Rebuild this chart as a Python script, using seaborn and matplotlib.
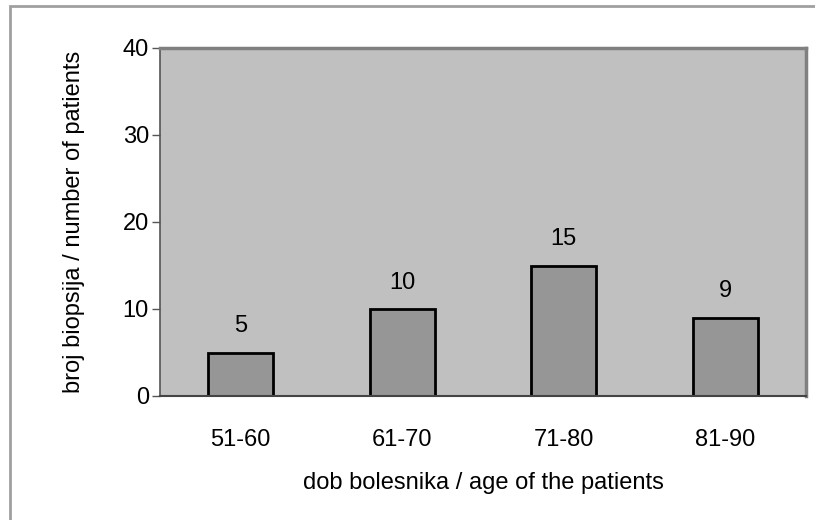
import matplotlib
matplotlib.use("Agg")
import matplotlib.pyplot as plt
import seaborn as sns
import pandas as pd
from matplotlib.patches import Rectangle

categories = ["51-60", "61-70", "71-80", "81-90"]
counts = [5, 10, 15, 9]
y_ticks = [0, 10, 20, 30, 40]

sns.set_style("white")
plt.rcParams['font.family'] = ['Liberation Sans', 'DejaVu Sans']
plt.rcParams['text.color'] = 'black'
plt.rcParams['axes.labelcolor'] = 'black'
plt.rcParams['xtick.color'] = 'black'
plt.rcParams['ytick.color'] = 'black'

df = pd.DataFrame({"age": categories, "n": counts})

fig = plt.figure(figsize=(8.15, 5.2), dpi=100)
ax = fig.add_axes([160/815, 1-396/520, (806-160)/815, (396-48)/520])
ax.set_facecolor("#C0C0C0")

sns.barplot(data=df, x="age", y="n", ax=ax, color="#969696", width=0.40,
            edgecolor="black", linewidth=2, saturation=1)

ax.set_ylim(0, 40)
ax.set_yticks(y_ticks)
ax.set_xlim(-0.5, 3.5)
for s in ["top", "right"]:
    ax.spines[s].set_color("#808080")
    ax.spines[s].set_linewidth(2.5)
ax.spines["left"].set_color("#555555")
ax.spines["left"].set_linewidth(1.2)
ax.spines["bottom"].set_color("#444444")
ax.spines["bottom"].set_linewidth(1.5)
ax.tick_params(axis="y", length=6, width=1, color="#555555", labelsize=17, pad=2,
               left=True, labelcolor="black")
ax.tick_params(axis="x", length=0, labelsize=17, pad=24, labelcolor="black")

for i, v in enumerate(counts):
    ax.annotate(str(v), (i, v), xytext=(0, 11), textcoords="offset points",
                ha="center", va="bottom", fontsize=17, color="black")

ax.set_xlabel("dob bolesnika / age of the patients", fontsize=17, labelpad=15, color="black")
ax.set_ylabel("broj biopsija / number of patients", fontsize=17, labelpad=27, color="black")

fig.patches.append(Rectangle((9.5/815, -0.1), 1.2, 1 - 6.5/520 + 0.1,
                             transform=fig.transFigure, fill=False,
                             edgecolor="#A0A0A0", linewidth=2))

fig.savefig("out.png", dpi=100)
